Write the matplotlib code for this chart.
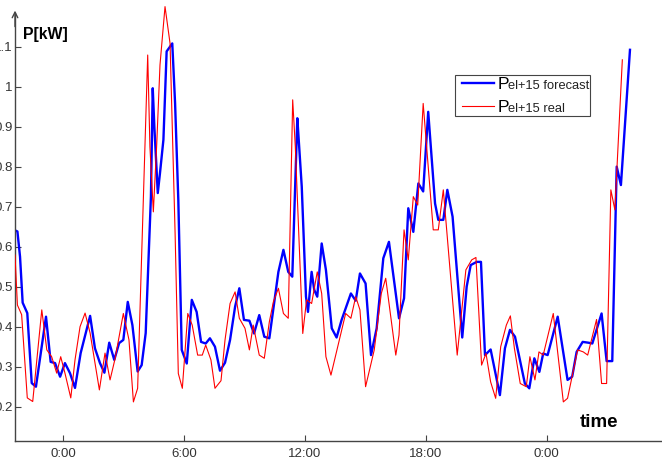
import numpy as np
import matplotlib
matplotlib.use("Agg")
import matplotlib.pyplot as plt
from matplotlib.lines import Line2D
from matplotlib.patches import Rectangle

plt.rcParams['font.family'] = ['Liberation Sans', 'DejaVu Sans']

# time in hours (0 = midnight of first day), power in kW
t_forecast = [-2.45, -2.28, -2.15, -2.02, -1.79, -1.57, -1.36, -0.86, -0.63, -0.41,
              -0.16, 0.08, 0.33, 0.58, 0.86, 1.33, 1.57, 1.82, 2.04, 2.28,
              2.53, 2.77, 2.98, 3.20, 3.43, 3.69, 3.89, 4.09, 4.35, 4.44,
              4.52, 4.69, 4.80, 4.97, 5.13, 5.30, 5.41, 5.55, 5.71, 5.88,
              6.13, 6.38, 6.62, 6.84, 7.07, 7.28, 7.53, 7.78, 8.03, 8.28,
              8.53, 8.74, 8.97, 9.24, 9.47, 9.73, 9.98, 10.23, 10.68, 10.93,
              11.17, 11.37, 11.62, 11.69, 11.84, 12.05, 12.15, 12.33, 12.46, 12.61,
              12.83, 13.04, 13.24, 13.33, 13.57, 13.82, 14.28, 14.52, 14.73, 15.01,
              15.28, 15.56, 15.89, 16.17, 16.67, 16.92, 17.13, 17.38, 17.63, 17.87,
              18.12, 18.46, 18.62, 18.87, 19.07, 19.33, 19.81, 20.03, 20.23, 20.53,
              20.74, 20.94, 21.22, 21.68, 21.93, 22.18, 22.43, 22.92, 23.14, 23.39,
              23.64, 23.83, 24.05, 24.55, 25.04, 25.27, 25.49, 25.79, 26.07, 26.27,
              26.73, 26.98, 27.26, 27.48, 27.69, 28.14]
p_forecast = [0.642, 0.638, 0.575, 0.46, 0.434, 0.259, 0.25, 0.425, 0.312, 0.309,
              0.275, 0.309, 0.284, 0.247, 0.334, 0.427, 0.346, 0.309, 0.285, 0.36,
              0.317, 0.359, 0.367, 0.462, 0.404, 0.288, 0.304, 0.384, 0.725, 0.996,
              0.90, 0.734, 0.784, 0.867, 1.088, 1.10, 1.108, 0.958, 0.717, 0.342,
              0.308, 0.467, 0.437, 0.362, 0.358, 0.371, 0.35, 0.29, 0.31, 0.367,
              0.45, 0.496, 0.417, 0.415, 0.383, 0.429, 0.375, 0.371, 0.537, 0.592,
              0.537, 0.525, 0.921, 0.867, 0.75, 0.475, 0.437, 0.537, 0.492, 0.475,
              0.608, 0.542, 0.442, 0.396, 0.373, 0.417, 0.483, 0.465, 0.533, 0.508,
              0.329, 0.396, 0.571, 0.612, 0.421, 0.471, 0.696, 0.637, 0.758, 0.738,
              0.937, 0.708, 0.667, 0.667, 0.742, 0.675, 0.373, 0.50, 0.554, 0.562,
              0.562, 0.329, 0.343, 0.229, 0.346, 0.392, 0.375, 0.258, 0.246, 0.321,
              0.287, 0.333, 0.329, 0.425, 0.267, 0.275, 0.337, 0.362, 0.36, 0.358,
              0.433, 0.314, 0.314, 0.80, 0.754, 1.092]

t_real = [-2.40, -2.28, -2.07, -1.79, -1.52, -1.07, -0.82, -0.58, -0.33, -0.13,
          0.08, 0.37, 0.58, 0.83, 1.08, 1.33, 1.79, 2.07, 2.32, 2.57,
          2.98, 3.26, 3.48, 3.69, 4.19, 4.30, 4.47, 4.64, 4.80, 5.05,
          5.30, 5.55, 5.71, 5.91, 6.18, 6.40, 6.67, 6.90, 7.07, 7.33,
          7.53, 7.83, 8.03, 8.28, 8.53, 8.74, 9.02, 9.24, 9.43, 9.73,
          9.98, 10.23, 10.43, 10.68, 10.93, 11.17, 11.39, 11.52, 11.89, 12.08,
          12.33, 12.61, 12.83, 13.04, 13.29, 14.02, 14.28, 14.52, 14.73, 15.01,
          15.44, 15.79, 16.01, 16.51, 16.67, 16.92, 17.13, 17.38, 17.60, 17.87,
          18.37, 18.62, 18.87, 19.56, 19.99, 20.28, 20.49, 20.77, 20.99, 21.22,
          21.47, 21.72, 22.00, 22.20, 22.40, 22.69, 22.99, 23.17, 23.42, 23.62,
          23.83, 24.33, 24.83, 25.04, 25.54, 25.82, 26.04, 26.48, 26.73, 26.98,
          27.19, 27.39, 27.76]
p_real = [0.579, 0.454, 0.43, 0.222, 0.213, 0.442, 0.342, 0.325, 0.284, 0.325,
          0.284, 0.222, 0.317, 0.40, 0.434, 0.384, 0.242, 0.334, 0.267, 0.32,
          0.433, 0.367, 0.212, 0.246, 1.079, 0.85, 0.687, 0.858, 1.054, 1.20,
          1.108, 0.634, 0.283, 0.246, 0.433, 0.404, 0.329, 0.329, 0.354, 0.317,
          0.246, 0.265, 0.367, 0.458, 0.487, 0.421, 0.396, 0.342, 0.404, 0.329,
          0.321, 0.412, 0.462, 0.496, 0.433, 0.421, 0.967, 0.85, 0.383, 0.467,
          0.458, 0.537, 0.483, 0.325, 0.279, 0.433, 0.421, 0.475, 0.442, 0.25,
          0.342, 0.483, 0.521, 0.329, 0.379, 0.642, 0.567, 0.725, 0.704, 0.958,
          0.642, 0.642, 0.742, 0.329, 0.542, 0.567, 0.573, 0.304, 0.333, 0.262,
          0.221, 0.35, 0.404, 0.427, 0.346, 0.258, 0.25, 0.325, 0.267, 0.337,
          0.329, 0.433, 0.212, 0.221, 0.342, 0.337, 0.329, 0.418, 0.258, 0.258,
          0.742, 0.692, 1.067]

xticks = [0, 6, 12, 18, 24]
xticklabels = ['0:00', '6:00', '12:00', '18:00', '0:00']
yticks = [0.2, 0.3, 0.4, 0.5, 0.6, 0.7, 0.8, 0.9, 1.0, 1.1]

W, H = 662, 461
fig = plt.figure(figsize=(W / 100, H / 100), dpi=100)
ax = fig.add_axes([15 / W, 20 / H, 1 - 15 / W, 436 / H])

ax.plot(t_forecast, p_forecast, color='#0000ff', lw=1.7, zorder=2)
ax.plot(t_real, p_real, color='#ff0000', lw=0.8, zorder=3)

ax.set_xlim(-2.40, 29.73)
ax.set_ylim(0.1143, 1.204)

for s in ['top', 'right']:
    ax.spines[s].set_visible(False)
for s in ['left', 'bottom']:
    ax.spines[s].set_color('#444444')
    ax.spines[s].set_linewidth(1.0)
ax.spines['left'].set_bounds(0.1143, 1.185)
ax.annotate('', xy=(0, 1.19), xytext=(0, 1.15),
            xycoords=('axes fraction', 'data'),
            arrowprops=dict(arrowstyle='->', color='#444444', lw=1.0,
                            shrinkA=0, shrinkB=0))

ax.set_xticks(xticks)
ax.set_xticklabels(xticklabels)
ax.set_yticks(yticks)
ax.set_yticklabels(['%g' % v for v in yticks])
ax.tick_params(direction='in', length=4, width=0.8, color='#444444',
               labelcolor='#333333', labelsize=9.5)
ax.tick_params(axis='y', pad=1.5)
ax.tick_params(axis='x', pad=5)

fig.text(23 / W, 1 - 39 / H, 'P[kW]', fontsize=11.4, fontweight='bold',
         va='baseline', ha='left')
fig.text(580 / W, 1 - 427 / H, 'time', fontsize=13.5, fontweight='bold',
         va='baseline', ha='left')

# legend drawn by hand: large "P" followed by smaller text
fig.add_artist(Rectangle((455 / W, 1 - 116 / H), 135 / W, 41 / H,
                         transform=fig.transFigure, fill=False,
                         edgecolor='#444444', lw=0.8))
entries = [('#0000ff', 1.7, 83, 89, 'el+15 forecast'),
           ('#ff0000', 0.8, 106, 112, 'el+15 real')]
for col, lw, ly, by, lab in entries:
    fig.add_artist(Line2D([462 / W, 494 / W], [1 - ly / H] * 2,
                          transform=fig.transFigure, color=col, lw=lw))
    fig.text(498 / W, 1 - by / H, 'P', fontsize=12.5, va='baseline', ha='left')
    fig.text(508 / W, 1 - by / H, lab, fontsize=9.3, va='baseline', ha='left',
             color='#222222')

fig.savefig('out.png', dpi=100, facecolor='white')
